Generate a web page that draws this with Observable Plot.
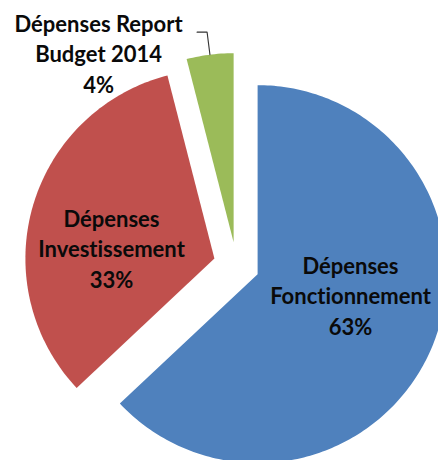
<!DOCTYPE html>
<html><head><meta charset="utf-8">
<script src="https://cdn.jsdelivr.net/npm/d3@7"></script>
<script src="https://cdn.jsdelivr.net/npm/@observablehq/plot@0.6"></script>
<style>
html,body{margin:0;padding:0;background:#fff;}
#chart{width:438px;height:460px;overflow:hidden;}
#chart svg text{font-variant-ligatures:none;font-feature-settings:"liga" 0;}
</style></head><body><div id="chart"></div>
<script>
// ---- data ----
const categories = ["Dépenses Fonctionnement", "Dépenses Investissement", "Dépenses Report Budget 2014"];
const labelNames = ["Dépenses\nFonctionnement", "Dépenses\nInvestissement", "Dépenses Report\nBudget 2014"];
const values = [63, 33, 4];
const colors = ["#4F81BD", "#C0504D", "#9BBB59"];

// ---- layout ----
const W = 438, H = 460, R = 189, CX = 236, CY = 264.5, EXPLODE = 23 / 189;
const labelPlacement = [
  {angle: 104.5, radius: 0.623},
  {angle: 278, radius: 0.668},
  {angle: 327, radius: 1.34}
];
const rad = Math.PI / 180;

const total = d3.sum(values);
const arcs = d3.pie().sort(null).value(d => d)(values);
const slicePts = [];
const labels = [];
let leader = [];
arcs.forEach((a, i) => {
  const mid = (a.startAngle + a.endAngle) / 2;
  const ox = EXPLODE * Math.sin(mid), oy = -EXPLODE * Math.cos(mid);
  slicePts.push({cat: categories[i], x: ox, y: oy});
  const n = Math.max(2, Math.ceil((a.endAngle - a.startAngle) / rad));
  for (let k = 0; k <= n; k++) {
    const t = a.startAngle + (a.endAngle - a.startAngle) * k / n;
    slicePts.push({cat: categories[i], x: ox + Math.sin(t), y: oy - Math.cos(t)});
  }
  const lp = labelPlacement[i];
  labels.push({
    cat: categories[i],
    text: labelNames[i] + "\n" + Math.round(values[i] / total * 100) + "%",
    x: lp.radius * Math.sin(lp.angle * rad),
    y: -lp.radius * Math.cos(lp.angle * rad)
  });
  if (lp.radius > 1) {
    const p0 = {x: ox + Math.sin(mid), y: oy - Math.cos(mid)};
    const e = EXPLODE + 1.12;
    const p1 = {x: e * Math.sin(mid), y: -e * Math.cos(mid)};
    const p2 = {x: p1.x - 10 / R, y: p1.y};
    leader = [p0, p1, p2];
  }
});

const chart = Plot.plot({
  width: W,
  height: H,
  margin: 0,
  x: {domain: [-CX / R, (W - CX) / R], range: [0, W], axis: null},
  y: {domain: [-CY / R, (H - CY) / R], range: [0, H], axis: null},
  color: {domain: categories, range: colors},
  style: {background: "#fff", overflow: "hidden"},
  marks: [
    Plot.line(slicePts, {x: "x", y: "y", z: "cat", fill: "cat", stroke: "none", curve: "linear-closed"}),
    Plot.line(leader, {x: "x", y: "y", stroke: "#333", strokeWidth: 1.1}),
    Plot.text(labels, {
      x: "x", y: "y", text: "text",
      fontSize: 22, fontWeight: "bold", fontFamily: "Lato",
      lineHeight: 1.39, fill: "#0a0a0a", textAnchor: "middle"
    })
  ]
});
document.getElementById("chart").appendChild(chart);
</script>
</body></html>
